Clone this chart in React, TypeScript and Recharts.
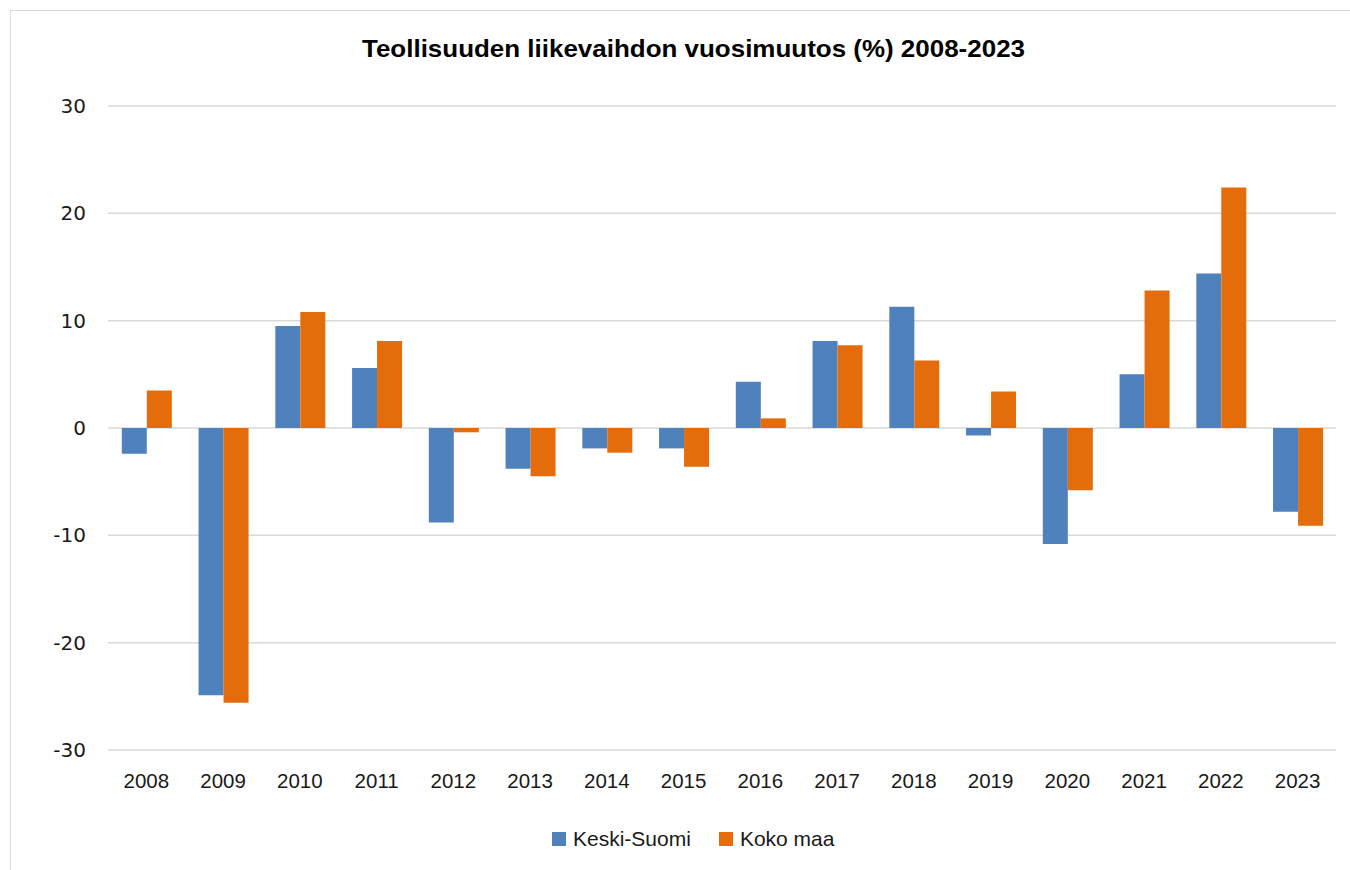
import { BarChart, Bar, XAxis, YAxis, CartesianGrid } from 'recharts';

// vuodet ja vuosimuutokset (%)
const years = ['2008', '2009', '2010', '2011', '2012', '2013', '2014', '2015', '2016', '2017', '2018', '2019', '2020', '2021', '2022', '2023'];
const keskiSuomi = [-2.4, -24.9, 9.5, 5.6, -8.8, -3.8, -1.9, -1.9, 4.3, 8.1, 11.3, -0.7, -10.8, 5.0, 14.4, -7.8];
const kokoMaa = [3.5, -25.6, 10.8, 8.1, -0.4, -4.5, -2.3, -3.6, 0.9, 7.7, 6.3, 3.4, -5.8, 12.8, 22.4, -9.1];
const yTicks = [-30, -20, -10, 0, 10, 20, 30];

const BLUE = '#4f81bd';
const ORANGE = '#e46c0a';
const SANS = '"Liberation Sans", Arial, sans-serif';

const chartData = years.map((year, i) => ({
  year,
  keski: keskiSuomi[i],
  koko: kokoMaa[i],
}));

function YearTick(props: any) {
  const { x, y, payload } = props;
  return (
    <text x={x} y={y + 30} textAnchor="middle" fontSize={20.5} fontFamily={SANS} fill="#1a1a1a">
      {payload.value}
    </text>
  );
}

function ChartLegend() {
  const items = [
    { label: 'Keski-Suomi', color: BLUE },
    { label: 'Koko maa', color: ORANGE },
  ];
  return (
    <div style={{ position: 'absolute', left: 552, top: 827, display: 'flex', alignItems: 'center', fontFamily: SANS, fontSize: 21, color: '#1a1a1a' }}>
      {items.map(item => (
        <div key={item.label} style={{ display: 'flex', alignItems: 'center', marginRight: 28 }}>
          <span style={{ width: 14, height: 14, background: item.color, display: 'inline-block', marginRight: 7 }} />
          <span>{item.label}</span>
        </div>
      ))}
    </div>
  );
}

export default function App() {
  return (
    <div style={{ position: 'absolute', left: 0, top: 0, width: 1350, height: 870, background: '#fff', overflow: 'hidden' }}>
      <div style={{ position: 'absolute', left: 10, top: 10, width: 1400, height: 900, border: '1px solid #d9d9d9' }} />
      <svg style={{ position: 'absolute', left: 0, top: 0 }} width={1350} height={80}>
        <text
          x={362}
          y={57}
          textLength={663}
          lengthAdjust="spacingAndGlyphs"
          fontFamily={SANS}
          fontWeight="bold"
          fontSize={24}
          fill="#000"
        >
          Teollisuuden liikevaihdon vuosimuutos (%) 2008-2023
        </text>
      </svg>
      <div style={{ position: 'absolute', left: 0, top: 0 }}>
        <BarChart
          width={1350}
          height={870}
          data={chartData}
          margin={{ top: 106, right: 14, left: 0, bottom: 80 }}
          barGap={0}
          barCategoryGap="18%"
        >
          <CartesianGrid vertical={false} stroke="#d9d9d9" strokeWidth={1.5} />
          <XAxis
            dataKey="year"
            height={40}
            axisLine={false}
            tickLine={false}
            tick={<YearTick />}
          />
          <YAxis
            width={108}
            domain={[-30, 30]}
            ticks={yTicks}
            axisLine={false}
            tickLine={false}
            tickSize={0}
            tickMargin={22}
            tick={{ fill: '#1a1a1a', fontSize: 20, fontFamily: '"DejaVu Sans", sans-serif' }}
          />
          <Bar dataKey="keski" name="Keski-Suomi" fill={BLUE} isAnimationActive={false} />
          <Bar dataKey="koko" name="Koko maa" fill={ORANGE} isAnimationActive={false} />
        </BarChart>
      </div>
      <ChartLegend />
    </div>
  );
}
